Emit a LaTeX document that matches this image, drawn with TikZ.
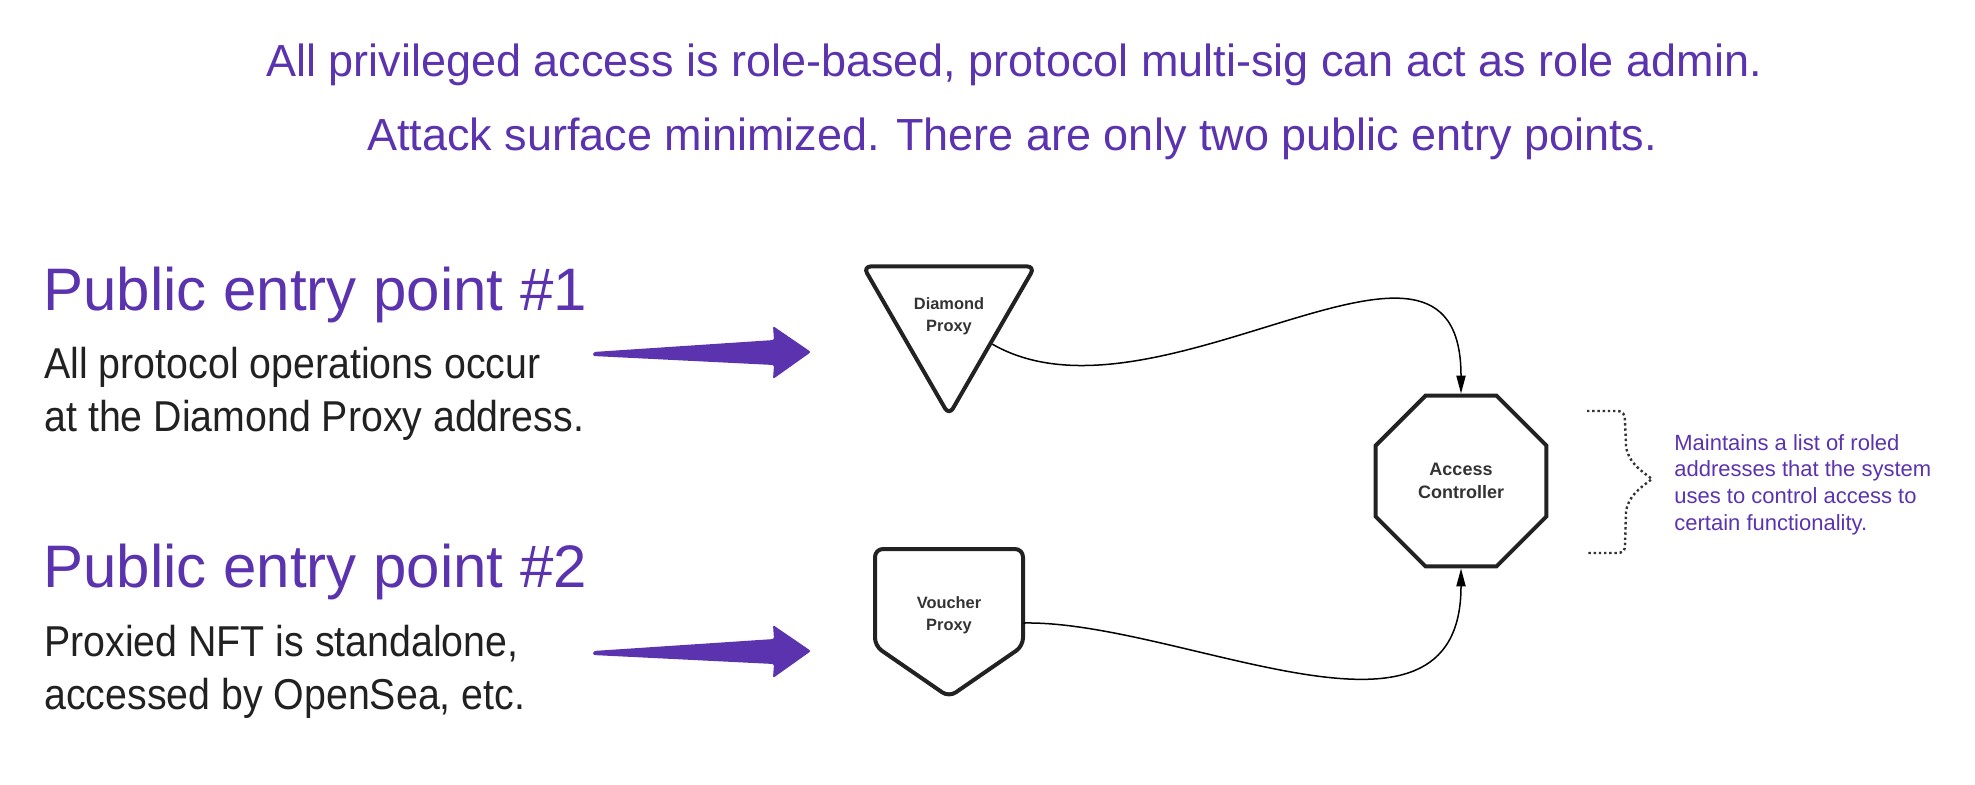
\documentclass[tikz,border=0pt]{standalone}
\usepackage{fontspec}
\setmainfont{Liberation Sans}
\newfontfamily\narrowfont[FakeStretch=0.91]{Liberation Sans}
\usetikzlibrary{shapes.geometric,arrows.meta}
\definecolor{rolepurple}{HTML}{5B33AE}
\definecolor{bodyink}{HTML}{212121}
\definecolor{boxink}{HTML}{222222}
\definecolor{labelink}{HTML}{333333}

\begin{document}
\begin{tikzpicture}[x=0.5pt, y=-0.5pt,
        title/.style={anchor=base, inner sep=0pt, text=rolepurple, font=\fontsize{22.5}{27}\selectfont},
        entry/.style={anchor=base west, inner sep=0pt, text=rolepurple, font=\fontsize{30}{36}\selectfont},
        blurb/.style={anchor=base west, inner sep=0pt, text=bodyink, align=left, font=\narrowfont\fontsize{21.6}{26.5}\selectfont},
        proxytext/.style={inner sep=0pt, text=labelink, align=center, font=\bfseries\fontsize{8.2}{11}\selectfont},
        contract/.style={proxytext, draw=boxink, line width=2pt},
        link/.style={draw=black, line width=0.75pt, -{Triangle[length=9pt,width=4.6pt]}},
        bigarrow/.style={fill=rolepurple, rounded corners=1pt},
        note/.style={anchor=base west, inner sep=0pt, text=rolepurple, align=left, font=\fontsize{11}{13.3}\selectfont},
        bracket/.style={draw=labelink, line width=1.2pt, dash pattern=on 1.2pt off 1.4pt}]
    \useasboundingbox (0,0) rectangle (1975,784);

    \node[title] (t1) at (1014,76) {All privileged access is role-based, protocol multi-sig can act as role admin.};
    \node[title] (t2) at (1012,150) {Attack surface minimized. There are only two public entry points.};

    \node[entry] (e1) at (43,310) {Public entry point \#1};
    \node[blurb] (b1) at (44,431) {All protocol operations occur\\at the Diamond Proxy address.};
    \node[entry] (e2) at (43,587) {Public entry point \#2};
    \node[blurb] (b2) at (44,709) {Proxied NFT is standalone,\\accessed by OpenSea, etc.};

    \foreach \ay in {352,651}
        \fill[bigarrow] (593,\ay) -- (774,\ay-12) -- (773,\ay-26) -- (811,\ay)
            -- (773,\ay+27) -- (774,\ay+13) -- (593,\ay+4) -- cycle;

    \node[contract, regular polygon, regular polygon sides=3, shape border rotate=180,
        minimum size=94pt, rounded corners=4pt, line join=round] (dp) at (949,316) {Diamond\\Proxy};
    \node[proxytext, minimum width=74pt] (vp) at (949,615) {Voucher\\Proxy};
    \draw[draw=boxink, line width=2pt, rounded corners=4pt, line join=round]
        ([shift={(-74,-66)}]vp.center) -- ++(148,0) -- ++(0,97) -- ++(-74,51) -- ++(-74,-51) -- cycle;
    \node[contract, regular polygon, regular polygon sides=8, minimum size=92.5pt,
        font=\bfseries\fontsize{9}{11.5}\selectfont] (ac) at (1461,481) {Access\\Controller};

    \draw[link] (dp.-33) .. controls +(165,95) and +(0,-219) .. (ac.north);
    \draw[link] ([yshift=-4pt]vp.east) .. controls +(157,-3) and +(0,205) .. (ac.south);

    \draw[bracket] (1587,411) -- (1616,411) .. controls (1623,411) and (1625,414) .. (1625,421)
        -- (1626,446) .. controls (1628,462) and (1640,470) .. (1652,479)
        .. controls (1640,488) and (1628,496) .. (1626,512) -- (1625,545)
        .. controls (1625,551) and (1623,553) .. (1616,553) -- (1587,553);
    \node[note] (nt) at (1674,530) {Maintains a list of roled\\addresses that the system\\uses to control access to\\certain functionality.};
\end{tikzpicture}
\end{document}
